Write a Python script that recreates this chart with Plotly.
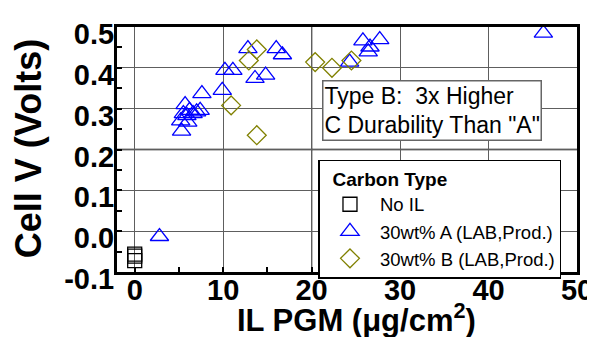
import plotly.graph_objects as go

# Data
sq_x = [0.0, 0.0, 0.0]
sq_y = [-0.056, -0.061, -0.072]

tri_x = [2.8, 5.3, 5.2, 5.5, 5.7, 5.9, 6.0, 6.2, 6.6, 7.0, 7.4, 7.6, 9.9, 10.2, 11.1,
         12.8, 13.6, 14.8, 16.0, 16.7, 24.3, 25.8, 26.4, 26.6, 27.7, 46.2]
tri_y = [-0.013, 0.245, 0.27, 0.288, 0.31, 0.283, 0.267, 0.296, 0.288, 0.292, 0.296,
         0.337, 0.345, 0.394, 0.394, 0.447, 0.374, 0.382, 0.447, 0.432, 0.414, 0.466,
         0.439, 0.451, 0.469, 0.485]

dia_x = [10.9, 12.9, 13.8, 13.8, 20.4, 22.3, 24.5]
dia_y = [0.308, 0.418, 0.445, 0.235, 0.414, 0.400, 0.418]

x_ticks = [0, 10, 20, 30, 40, 50]
y_ticks = [-0.1, 0.0, 0.1, 0.2, 0.3, 0.4, 0.5]

FONT = "Liberation Sans"

fig = go.Figure()
fig.add_trace(go.Scatter(x=sq_x, y=sq_y, mode="markers", name="No IL",
                         marker=dict(symbol="square-open", size=14, color="black",
                                     line=dict(width=1.3, color="black"))))
fig.add_trace(go.Scatter(x=tri_x, y=tri_y, mode="markers", name="30wt% A (LAB,Prod.)",
                         marker=dict(symbol="triangle-up-open", size=16, color="#0000FF",
                                     line=dict(width=1.3, color="#0000FF"))))
fig.add_trace(go.Scatter(x=dia_x, y=dia_y, mode="markers", name="30wt% B (LAB,Prod.)",
                         marker=dict(symbol="diamond-open", size=14.5, color="#808000",
                                     line=dict(width=1.3, color="#808000"))))

axis_common = dict(showline=True, linecolor="black", linewidth=3, mirror=True,
                   showgrid=True, gridcolor="#5e5e5e", gridwidth=1.1,
                   ticks="inside", ticklen=5, tickwidth=2, tickcolor="black",
                   zeroline=False, automargin=False,
                   tickfont=dict(family=FONT, size=29, color="black", weight="bold"))

fig.update_xaxes(range=[-2, 50], tickvals=x_ticks, ticktext=[str(v) for v in x_ticks],
                 ticklabelstandoff=-10,
                 minor=dict(ticks="inside", ticklen=5, tickwidth=2, tickcolor="black", dtick=5, tick0=0, showgrid=False),
                 **axis_common)
fig.update_yaxes(range=[-0.1, 0.5], tickvals=y_ticks, ticktext=[f"{v:.1f}" for v in y_ticks],
                 ticklabelstandoff=-6, ticklabelshift=7,
                 minor=dict(ticks="inside", ticklen=5, tickwidth=2, tickcolor="black", dtick=0.05, tick0=0, showgrid=False),
                 **axis_common)

# axis titles
fig.add_annotation(x=0.52, y=-0.189, xref="paper", yref="paper", showarrow=False,
                   text="IL PGM (μg/cm<sup>2</sup>)", xanchor="center", yanchor="middle",
                   font=dict(family=FONT, size=31, color="black", weight="bold"))
fig.add_annotation(x=-0.1936, y=0.505, xref="paper", yref="paper", showarrow=False,
                   text="Cell V (Volts)", textangle=-90, xanchor="center", yanchor="middle",
                   font=dict(family=FONT, size=36, color="black", weight="bold"))

# darker grid lines at x=20 and y=0.2 as in the reference
fig.add_shape(type="line", x0=20, x1=20, y0=0, y1=1, xref="x", yref="paper",
              line=dict(color="black", width=1.3), layer="below")
fig.add_shape(type="line", x0=0, x1=1, y0=0.2, y1=0.2, xref="paper", yref="y",
              line=dict(color="black", width=1.3), layer="below")

fig.add_annotation(x=0.685, y=0.659, xref="paper", yref="paper", showarrow=False,
                   xanchor="center", yanchor="middle",
                   text="Type B:  3x Higher<br>C Durability Than \"A\"", align="left",
                   font=dict(family=FONT, size=23, color="black"),
                   bgcolor="white", bordercolor="#666666", borderwidth=1.5, borderpad=1)

fig.update_layout(
    width=587, height=329,
    margin=dict(l=109, r=18, t=19, b=65),
    paper_bgcolor="white", plot_bgcolor="white",
    font=dict(family=FONT, color="black"),
    showlegend=True,
    legend=dict(x=0.438, y=0.459, xanchor="left", yanchor="top",
                bgcolor="white", bordercolor="black", borderwidth=1.5,
                font=dict(family=FONT, size=18.5, color="black"),
                itemwidth=50,
                title=dict(text="\u00a0\u00a0Carbon Type", font=dict(family=FONT, size=19, color="black", weight="bold")),
                tracegroupgap=0, itemsizing="trace"),
)

fig.write_html("out.html")
